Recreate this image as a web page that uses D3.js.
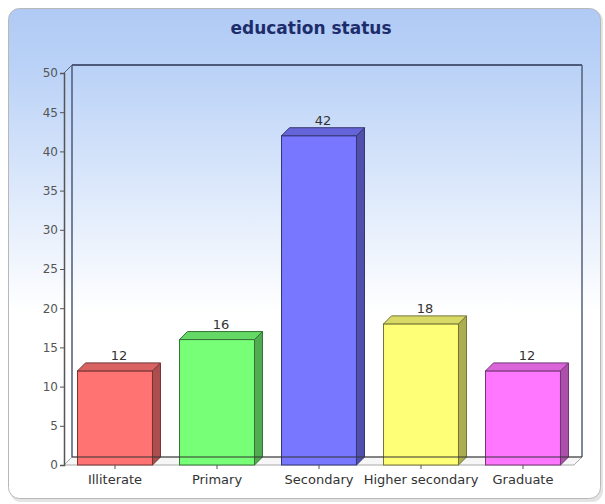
<!DOCTYPE html>
<html>
<head>
<meta charset="utf-8">
<script src="https://cdn.jsdelivr.net/npm/d3@7"></script>
<style>
  body { margin: 0; background: #fff; }
</style>
</head>
<body>
<div id="chart"></div>
<script>
const categories = ["Illiterate", "Primary", "Secondary", "Higher secondary", "Graduate"];
const counts = [12, 16, 42, 18, 12];
const yTicks = [0, 5, 10, 15, 20, 25, 30, 35, 40, 45, 50];
const barColors = ["#ff7373", "#77ff77", "#7777ff", "#ffff77", "#ff77ff"];

const ctx = {
    w: 605, h: 504,
    plot: {left: 64, right: 574, top: 73, bottom: 465},
    depth: 8
};

function drawChart() {
    let svg = d3.select("#chart").append("svg")
        .attr("width", ctx.w)
        .attr("height", ctx.h);

    // panel background
    let defs = svg.append("defs");
    let bg = defs.append("linearGradient")
        .attr("id", "bg-grad")
        .attr("x1", 0).attr("y1", 0).attr("x2", 0).attr("y2", 1);
    bg.append("stop").attr("offset", "0%").attr("stop-color", "#b0caf5");
    bg.append("stop").attr("offset", "12%").attr("stop-color", "#bad2f7");
    bg.append("stop").attr("offset", "62%").attr("stop-color", "#ffffff");
    bg.append("stop").attr("offset", "100%").attr("stop-color", "#ffffff");

    svg.append("rect")
        .attr("x", 10).attr("y", 10)
        .attr("width", 593).attr("height", 492)
        .attr("rx", 11)
        .attr("fill", "#e4e4e4");
    svg.append("rect")
        .attr("x", 8.5).attr("y", 8.5)
        .attr("width", 592).attr("height", 490)
        .attr("rx", 11)
        .attr("fill", "url(#bg-grad)")
        .attr("stroke", "#b8b8b8");

    // title
    svg.append("text")
        .attr("x", 311)
        .attr("y", 34)
        .attr("text-anchor", "middle")
        .style("font-family", "DejaVu Sans")
        .style("font-weight", "bold")
        .style("font-size", "17px")
        .style("fill", "#1d2d6b")
        .text("education status");

    let p = ctx.plot, d = ctx.depth;

    let x = d3.scaleBand()
        .domain(categories)
        .range([p.left, p.right])
        .paddingInner(0.265)
        .paddingOuter(0.1325);
    let y = d3.scaleLinear()
        .domain([0, 50])
        .range([p.bottom, p.top]);

    // floor
    svg.append("path")
        .attr("d", `M${p.left},${p.bottom}L${p.right},${p.bottom}L${p.right + d},${p.bottom - d}L${p.left + d},${p.bottom - d}Z`)
        .attr("fill", "#f6f6f6")
        .attr("stroke", "#aaaaaa");

    // back wall edges
    svg.append("line")
        .attr("x1", p.left + d).attr("y1", p.top - d)
        .attr("x2", p.right + d).attr("y2", p.top - d)
        .attr("stroke", "#4d5a7a").attr("stroke-width", 2);
    svg.append("line")
        .attr("x1", p.right + d).attr("y1", p.top - d)
        .attr("x2", p.right + d).attr("y2", p.bottom - d)
        .attr("stroke", "#55607a").attr("stroke-width", 1.5);
    svg.append("line")
        .attr("x1", p.left + d).attr("y1", p.top - d)
        .attr("x2", p.left + d).attr("y2", p.bottom - d)
        .attr("stroke", "#4d5a7a").attr("stroke-width", 1.5);
    svg.append("line")
        .attr("x1", p.left).attr("y1", p.top)
        .attr("x2", p.left + d).attr("y2", p.top - d)
        .attr("stroke", "#55607a");

    // bars
    let barsG = svg.append("g");
    let data = categories.map((c, i) => ({cat: c, v: counts[i], color: barColors[i]}));
    let bw = x.bandwidth();
    let bar = barsG.selectAll("g.bar")
        .data(data)
        .enter()
        .append("g")
        .attr("class", "bar");

    // front
    bar.append("rect")
        .attr("x", b => x(b.cat))
        .attr("y", b => y(b.v))
        .attr("width", bw)
        .attr("height", b => y(0) - y(b.v))
        .attr("fill", b => b.color)
        .attr("stroke", b => d3.color(b.color).darker(2.2))
        .attr("stroke-width", 1);
    // side
    bar.append("path")
        .attr("d", b => {
            let x1 = x(b.cat) + bw, yt = y(b.v), yb = y(0);
            return `M${x1},${yt}L${x1 + d},${yt - d}L${x1 + d},${yb - d}L${x1},${yb}Z`;
        })
        .attr("fill", b => d3.color(b.color).darker(1.1))
        .attr("stroke", b => d3.color(b.color).darker(2.2))
        .attr("stroke-width", 1);
    // top
    bar.append("path")
        .attr("d", b => {
            let x0 = x(b.cat), yt = y(b.v);
            return `M${x0},${yt}L${x0 + d},${yt - d}L${x0 + bw + d},${yt - d}L${x0 + bw},${yt}Z`;
        })
        .attr("fill", b => d3.color(b.color).darker(0.45))
        .attr("stroke", b => d3.color(b.color).darker(2.2))
        .attr("stroke-width", 1);

    // value labels
    bar.append("text")
        .attr("x", b => x(b.cat) + bw / 2 + d / 2)
        .attr("y", b => y(b.v) - d - 3)
        .attr("text-anchor", "middle")
        .style("font-family", "DejaVu Sans")
        .style("font-size", "13px")
        .style("fill", "#333")
        .text(b => b.v);

    // back floor line drawn over bars
    svg.append("line")
        .attr("x1", p.left + d).attr("y1", p.bottom - d)
        .attr("x2", p.right + d).attr("y2", p.bottom - d)
        .attr("stroke", "#333").attr("stroke-width", 1);

    // y axis
    let yAxis = svg.append("g")
        .attr("transform", `translate(${p.left},0)`)
        .call(d3.axisLeft(y).tickValues(yTicks).tickSize(4).tickPadding(2));
    yAxis.select(".domain").attr("stroke", "#555").attr("stroke-width", 1.5);
    yAxis.selectAll(".tick line").attr("stroke", "#555");
    yAxis.selectAll("text")
        .style("font-family", "DejaVu Sans")
        .style("font-size", "12px")
        .style("fill", "#555");

    // x axis
    let xAxis = svg.append("g")
        .attr("transform", `translate(0,${p.bottom})`)
        .call(d3.axisBottom(x).tickSize(4).tickPadding(6));
    xAxis.select(".domain").remove();
    xAxis.selectAll(".tick line").attr("stroke", "#555");
    xAxis.selectAll("text")
        .style("font-family", "DejaVu Sans")
        .style("font-size", "13px")
        .style("fill", "#333");
}

drawChart();
</script>
</body>
</html>
